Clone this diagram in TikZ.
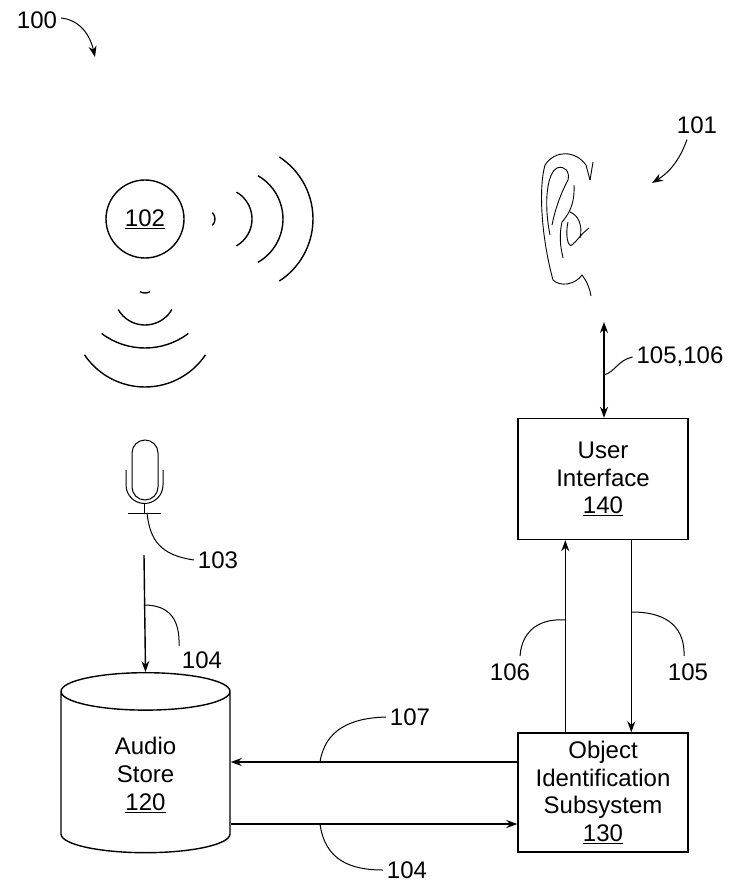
\documentclass[tikz,border=0pt]{standalone}
\usepackage{fontspec}
\setmainfont{Liberation Sans}
\usetikzlibrary{shapes.geometric,arrows.meta}
\begin{document}
\begin{tikzpicture}[x=1pt,y=-1pt,line width=1.4pt,
	lbl/.style={font=\fontsize{24}{24}\selectfont},
	box/.style={draw,minimum width=170pt,minimum height=121pt,align=center,font=\fontsize{24}{27.5}\selectfont},
	lead/.style={line width=1pt},
	arr/.style={-{Stealth[length=11pt,width=8pt]}}]

% frame %{{{2

	\useasboundingbox (0,0) rectangle (750,890);

% blocks %{{{2

	\node[box] (ui) at (603,479) {User\\Interface\\\underline{140}};
	\node[box,minimum height=119pt] (ois) at (603,792.5) {Object\\Identification\\Subsystem\\\underline{130}};
	\node[cylinder,draw,shape border rotate=90,aspect=0.55,minimum width=169pt,minimum height=180pt,
		align=center,font=\fontsize{24}{28}\selectfont] (as) at (145.5,775) {Audio\\Store\\\underline{120}};

% source and waves %{{{2

	\node[circle,draw,minimum size=78pt,lbl] (src) at (145,219) {\underline{102}};
	\draw (206,219) ++(-45:9) arc (-45:45:9);
	\draw (221,219) ++(-60:31) arc (-60:60:31);
	\draw (233,219) ++(-60:50) arc (-60:60:50);
	\draw (239,219) ++(-57:74) arc (-57:57:74);
	\draw (145,283) ++(60:10) arc (60:120:10);
	\draw (145,294) ++(30:31) arc (30:150:31);
	\draw (145,276) ++(53:72) arc (53:127:72);
	\draw (145,314) ++(34:73) arc (34:146:73);

% microphone %{{{2

	\begin{scope}[line width=1pt]
	\draw (132,487) -- (132,453) arc (180:360:13) -- (158,487) arc (0:180:13);
	\draw (126,470) -- (126,485) arc (180:0:18.5) -- (163,470);
	\draw (144.5,503.5) -- (144.5,513);
	\draw (128,513) -- (161,513);
	\end{scope}
	\coordinate (mic) at (147,513);

% ear %{{{2

	\begin{scope}[line width=0.9pt]
	\draw (590,180) -- (586,165) .. controls (575,150) and (555,150) .. (545,165)
		.. controls (538,190) and (542,240) .. (553,280)
		.. controls (560,287) and (575,285) .. (582,275) .. controls (588,283) and (590,290) .. (591,296);
	\draw (590,180) -- (593,162);
	\draw (550,235) .. controls (543,200) and (548,172) .. (557,168)
		.. controls (565,165) and (570,172) .. (568,180) .. controls (560,195) and (555,210) .. (552,225);
	\draw (574,185) .. controls (575,205) and (568,215) .. (562,222)
		.. controls (558,240) and (562,252) .. (563,258);
	\draw (568,222) .. controls (565,235) and (568,248) .. (572,245)
		.. controls (578,240) and (580,235) .. (589,228);
	\draw (570,212) .. controls (578,215) and (583,225) .. (580,238);
	\end{scope}
	\coordinate (ear) at (604,322);

% connectors %{{{2

	\coordinate (m1) at (144,555);
	\draw[arr] (m1) -- (as.top);
	\draw[arr] (ois.west |- 0,762) -- (as.east |- 0,762);
	\draw[arr] (as.east |- 0,824) -- (ois.west |- 0,824);
	\draw[arr] (ois.south west |- 0,733) ++(48,0) coordinate (u1) -- (u1 |- ui.south);
	\draw[arr] (ui.south west) ++(114,0) coordinate (d1) -- (d1 |- ois.north);
	\draw[{Stealth[length=11pt,width=8pt]}-{Stealth[length=11pt,width=8pt]}] (ear) -- (ear |- ui.north);

% labels and leaders %{{{2

	\node[lbl] (l100) at (37,20) {100};
	\node[lbl] (l101) at (697,125) {101};
	\node[lbl] (l103) at (218,560) {103};
	\node[lbl] (l104a) at (202,660) {104};
	\node[lbl] (l104b) at (407,870) {104};
	\node[lbl] (l105) at (688,672) {105};
	\node[lbl] (l106) at (510,672) {106};
	\node[lbl] (l107) at (410,717) {107};
	\node[lbl] (l156) at (680,357) {105,106};

	\draw[arr,lead] (l100.east) ++(0,-2) .. controls (80,20) and (90,35) .. (95,57);
	\draw[arr,lead] (l101.south) ++(-10,2) .. controls (678,165) and (665,175) .. (652,183);
	\draw[lead] (mic) .. controls (150,540) and (160,555) .. (l103.west);
	\draw[lead] (144,605) .. controls (170,605) and (180,620) .. (179,646);
	\draw[lead] (320,762) .. controls (325,730) and (350,718) .. (l107.west);
	\draw[lead] (320,824) .. controls (325,860) and (350,870) .. (l104b.west);
	\draw[lead] (566,620) .. controls (540,618) and (522,630) .. (520,656);
	\draw[lead] (632,612) .. controls (670,612) and (685,630) .. (684,656);
	\draw[lead] (604,375) .. controls (615,372) and (618,360) .. (l156.west);

\end{tikzpicture}
\end{document}
